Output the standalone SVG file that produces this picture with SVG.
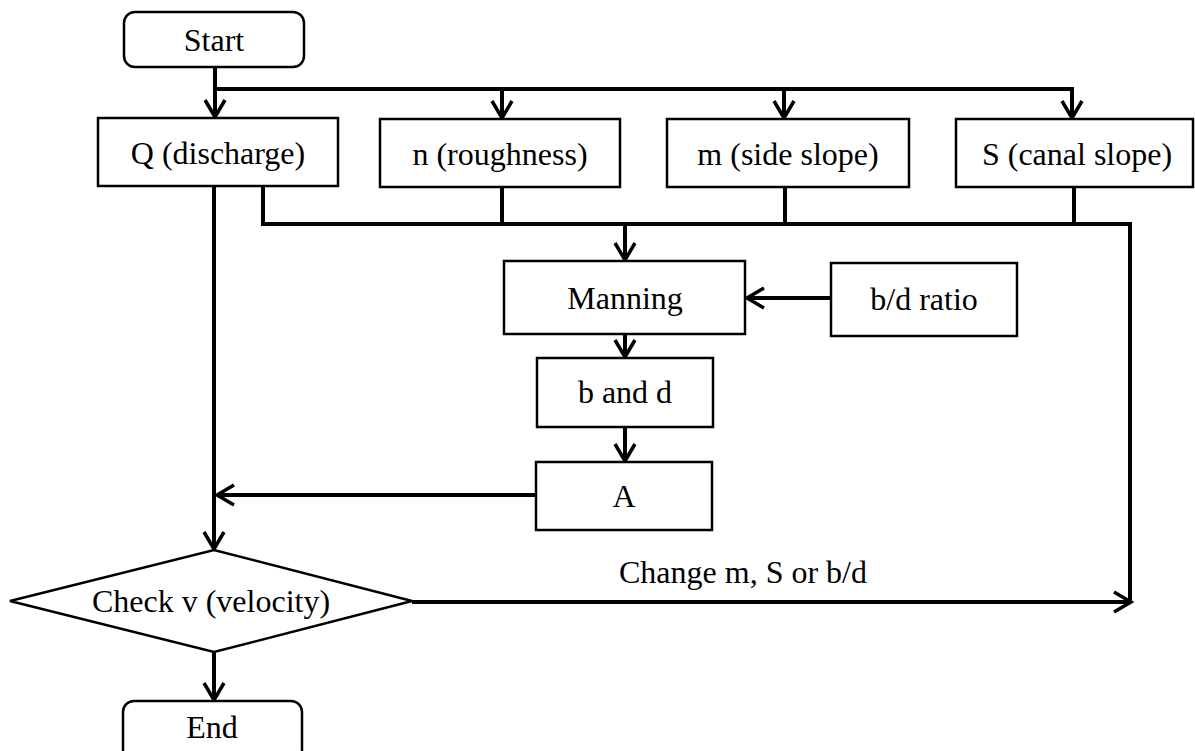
<svg xmlns="http://www.w3.org/2000/svg" width="1195" height="751" viewBox="0 0 1195 751">
<style>
.box{fill:#fff;stroke:#000;stroke-width:2.5}
.t{font-family:"Liberation Serif","Times New Roman",serif;font-size:32px;fill:#000;text-anchor:middle}
.c{fill:none;stroke:#000;stroke-width:4}
</style>
<defs>
<marker id="ah" markerUnits="userSpaceOnUse" markerWidth="24" markerHeight="26" refX="19" refY="12" orient="auto">
<path d="M2,2 L19,12 L2,22" fill="none" stroke="#000" stroke-width="3.5"/>
</marker>
</defs>
<rect width="1195" height="751" fill="#fff"/>
<g id="connectors">
<path class="c" d="M215,67 V117" marker-end="url(#ah)"/>
<path class="c" d="M215,89 H1072 V118" marker-end="url(#ah)"/>
<path class="c" d="M502,89 V118" marker-end="url(#ah)"/>
<path class="c" d="M784,89 V118" marker-end="url(#ah)"/>
<path class="c" d="M214,186 V549" marker-end="url(#ah)"/>
<path class="c" d="M263,186 V224 H1130 V602"/>
<path class="c" d="M502,187 V224"/>
<path class="c" d="M785,187 V224"/>
<path class="c" d="M1074,187 V224"/>
<path class="c" d="M625,224 V260" marker-end="url(#ah)"/>
<path class="c" d="M831,298 H747" marker-end="url(#ah)"/>
<path class="c" d="M625,334 V357" marker-end="url(#ah)"/>
<path class="c" d="M625,427 V461" marker-end="url(#ah)"/>
<path class="c" d="M536,495 H217" marker-end="url(#ah)"/>
<path class="c" d="M412,602 H1131" marker-end="url(#ah)"/>
<path class="c" d="M214,652 V700" marker-end="url(#ah)"/>
<text class="t" x="743" y="583">Change m, S or b/d</text>
</g>
<g id="start"><rect class="box" x="124" y="12" width="180" height="55" rx="11"/><text class="t" x="214" y="51">Start</text></g>
<g id="q"><rect class="box" x="98" y="118" width="240" height="68"/><text class="t" x="218" y="164">Q (discharge)</text></g>
<g id="n"><rect class="box" x="380" y="119" width="240" height="68"/><text class="t" x="500" y="165">n (roughness)</text></g>
<g id="m"><rect class="box" x="667" y="119" width="242" height="68"/><text class="t" x="788" y="165">m (side slope)</text></g>
<g id="s"><rect class="box" x="956" y="119" width="237" height="68"/><text class="t" x="1077" y="165">S (canal slope)</text></g>
<g id="manning"><rect class="box" x="504" y="261" width="241" height="73"/><text class="t" x="625" y="309">Manning</text></g>
<g id="bd-ratio"><rect class="box" x="831" y="263" width="186" height="73"/><text class="t" x="924" y="310">b/d ratio</text></g>
<g id="b-and-d"><rect class="box" x="537" y="358" width="176" height="69"/><text class="t" x="625" y="403">b and d</text></g>
<g id="a"><rect class="box" x="536" y="462" width="176" height="68"/><text class="t" x="624" y="507">A</text></g>
<g id="check"><polygon class="box" points="10,601 214,550 412,601 214,652"/><text class="t" x="211" y="612">Check v (velocity)</text></g>
<g id="end"><rect class="box" x="123" y="701" width="179" height="60" rx="11"/><text class="t" x="212" y="738">End</text></g>
</svg>
